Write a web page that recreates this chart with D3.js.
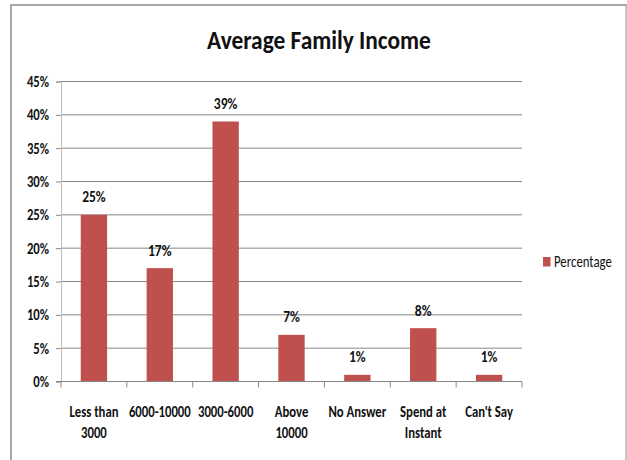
<!DOCTYPE html>
<html>
<head>
<meta charset="utf-8">
<script src="https://cdn.jsdelivr.net/npm/d3@7"></script>
<style>
  html, body { margin: 0; padding: 0; background: #fff; }
  svg { display: block; }
  text { font-family: Carlito, "Liberation Sans Narrow", "Open Sans", sans-serif; }
</style>
</head>
<body>
<svg id="chart" width="627" height="460"></svg>
<script>
// Survey responses: average family income
const categories = ["Less than 3000", "6000-10000", "3000-6000", "Above 10000", "No Answer", "Spend at Instant", "Can't Say"];
const categoryLines = [["Less than", "3000"], ["6000-10000"], ["3000-6000"], ["Above", "10000"], ["No Answer"], ["Spend at", "Instant"], ["Can't Say"]];
const percentages = [25, 17, 39, 7, 1, 8, 1];
const yTicks = [0, 5, 10, 15, 20, 25, 30, 35, 40, 45];
const seriesName = "Percentage";
const title = "Average Family Income";

const svg = d3.select("#chart");
const barColor = "#C0504D";
const gridColor = "#878787";
const fontStack = 'Carlito, "Liberation Sans Narrow", "Open Sans", sans-serif';
const squeeze = 0.82;   // condensed lettering
const ink = "#111";

// Chart frame
svg.append("rect")
  .attr("x", 11).attr("y", 5)
  .attr("width", 615).attr("height", 470)
  .attr("fill", "#fff")
  .attr("stroke", "#8a8a8a").attr("stroke-width", 1.5);
svg.append("line")
  .attr("x1", 626).attr("x2", 626).attr("y1", 6).attr("y2", 460)
  .attr("stroke", "#d0d0d0").attr("stroke-width", 1.5);

const plotLeft = 61, plotRight = 522, plotTop = 81.5, plotBottom = 381.5;

const x = d3.scaleBand().domain(categories).range([plotLeft, plotRight]).paddingInner(0.6).paddingOuter(0.3);
const xOuter = d3.scaleBand().domain(categories).range([plotLeft, plotRight]);
const y = d3.scaleLinear().domain([0, 45]).range([plotBottom, plotTop]);

// Title
svg.append("text")
  .attr("transform", "translate(319,48.5) scale(0.9,1)")
  .attr("text-anchor", "middle")
  .attr("font-size", 26).attr("font-weight", "bold")
  .attr("fill", ink)
  .text(title);

// Horizontal gridlines
svg.append("g")
  .selectAll("line")
  .data(yTicks.filter(d => d > 0))
  .join("line")
  .attr("x1", plotLeft).attr("x2", plotRight)
  .attr("y1", d => y(d)).attr("y2", d => y(d))
  .attr("stroke", gridColor).attr("stroke-width", 1);

// Y axis
const yAxis = d3.axisLeft(y).tickValues(yTicks).tickSize(5).tickFormat(d => d + "%");
const gy = svg.append("g").attr("transform", `translate(${plotLeft},0)`).call(yAxis);
gy.select(".domain").attr("stroke", "#bdbdbd");
gy.selectAll(".tick line").attr("stroke", gridColor);
gy.selectAll(".tick text")
  .attr("x", 0).attr("dy", "0.32em")
  .attr("transform", `translate(-12,0) scale(${squeeze},1)`)
  .attr("text-anchor", "end")
  .attr("font-size", 15.5).attr("font-weight", "bold").attr("fill", ink)
  .attr("font-family", fontStack);

// Bars
svg.append("g")
  .selectAll("rect")
  .data(categories)
  .join("rect")
  .attr("x", d => x(d))
  .attr("width", x.bandwidth())
  .attr("y", (d, i) => y(percentages[i]))
  .attr("height", (d, i) => y(0) - y(percentages[i]))
  .attr("fill", barColor);

// X axis baseline with tick marks at category boundaries
svg.append("line")
  .attr("x1", plotLeft - 5).attr("x2", plotRight)
  .attr("y1", plotBottom).attr("y2", plotBottom)
  .attr("stroke", gridColor);
const boundaries = categories.map(d => xOuter(d)).concat([plotRight]);
svg.append("g")
  .selectAll("line")
  .data(boundaries)
  .join("line")
  .attr("x1", d => d).attr("x2", d => d)
  .attr("y1", plotBottom).attr("y2", plotBottom + 6)
  .attr("stroke", gridColor);

// Category labels
const labels = svg.append("g")
  .selectAll("text")
  .data(categories)
  .join("text")
  .attr("transform", d => `translate(${xOuter(d) + xOuter.bandwidth() / 2},416.5) scale(${squeeze},1)`)
  .attr("text-anchor", "middle")
  .attr("font-size", 15.5).attr("font-weight", "bold")
  .attr("fill", ink);
labels.each(function(d, i) {
  const t = d3.select(this);
  categoryLines[i].forEach((line, j) => {
    t.append("tspan")
      .attr("x", 0)
      .attr("dy", j === 0 ? 0 : 21.5)
      .text(line);
  });
});

// Data labels
svg.append("g")
  .selectAll("text")
  .data(categories)
  .join("text")
  .attr("transform", (d, i) => `translate(${x(d) + x.bandwidth() / 2},${y(percentages[i]) - 12.5}) scale(${squeeze},1)`)
  .attr("text-anchor", "middle")
  .attr("font-size", 16.5).attr("font-weight", "bold")
  .attr("fill", ink)
  .text((d, i) => percentages[i] + "%");

// Legend
const legend = svg.append("g").attr("transform", "translate(543,257)");
legend.append("rect").attr("width", 7.5).attr("height", 9.5).attr("fill", barColor);
legend.append("text")
  .attr("transform", `translate(11,10) scale(0.8,1)`)
  .attr("font-size", 16).attr("fill", ink)
  .text(seriesName);
</script>
</body>
</html>
